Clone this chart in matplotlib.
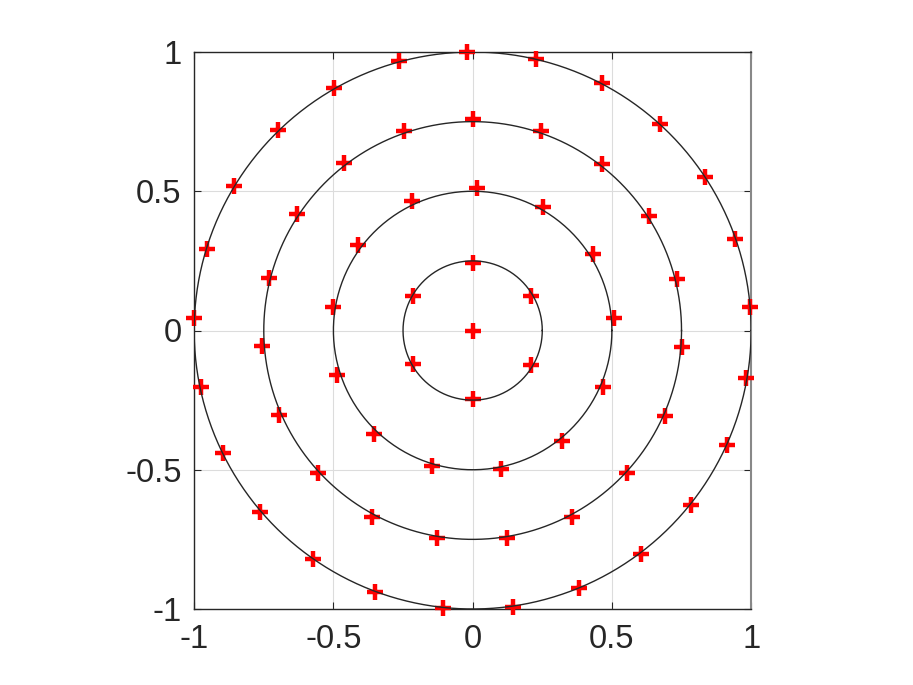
import numpy as np
import matplotlib
matplotlib.use("Agg")
import matplotlib.pyplot as plt

# Ring radii (drawn circles)
radii = [0.25, 0.5, 0.75, 1.0]

# Point coordinates
center_x = [0.0]
center_y = [0.0]

ring1_x = [0.000, 0.211, 0.211, 0.000, -0.213, -0.213]
ring1_y = [0.241, 0.124, -0.123, -0.246, -0.121, 0.124]

ring2_x = [0.016, 0.253, 0.432, 0.509, 0.468, 0.322, 0.101, -0.145, -0.353,
           -0.487, -0.503, -0.410, -0.218]
ring2_y = [0.512, 0.442, 0.274, 0.044, -0.202, -0.396, -0.498, -0.487, -0.372,
           -0.160, 0.083, 0.307, 0.465]

ring3_x = [0.000, 0.247, 0.465, 0.632, 0.734, 0.752, 0.689, 0.555, 0.358, 0.122,
           -0.127, -0.362, -0.557, -0.694, -0.755, -0.732, -0.630, -0.463, -0.246]
ring3_y = [0.758, 0.718, 0.597, 0.412, 0.184, -0.059, -0.307, -0.512, -0.669, -0.746,
           -0.746, -0.669, -0.513, -0.303, -0.057, 0.187, 0.417, 0.600, 0.717]

ring4_x = [-1.000, -0.955, -0.857, -0.698, -0.499, -0.266, -0.019, 0.229, 0.465,
           0.671, 0.835, 0.943, 0.996, 0.983, 0.913, 0.784, 0.603, 0.382, 0.145,
           -0.105, -0.352, -0.574, -0.762, -0.895, -0.976]
ring4_y = [0.046, 0.292, 0.520, 0.720, 0.870, 0.969, 1.001, 0.975, 0.890,
           0.741, 0.552, 0.327, 0.083, -0.169, -0.411, -0.627, -0.803, -0.926, -0.992,
           -0.997, -0.938, -0.822, -0.651, -0.441, -0.204]

ticks = [-1, -0.5, 0, 0.5, 1]
tick_labels = ["-1", "-0.5", "0", "0.5", "1"]

plt.rcParams['font.family'] = ['Liberation Sans', 'DejaVu Sans']

fig = plt.figure(figsize=(9.13, 6.85), dpi=100)
ax = fig.add_axes([193.3 / 913, 76 / 685, 558.7 / 913, 557 / 685])

xs = center_x + ring1_x + ring2_x + ring3_x + ring4_x
ys = center_y + ring1_y + ring2_y + ring3_y + ring4_y
ax.plot(xs, ys, linestyle='none', marker='+', color='#ff0000',
        markersize=12, markeredgewidth=3.2, zorder=3, clip_on=False)

t = np.linspace(0, 2 * np.pi, 400)
for r in radii:
    ax.plot(r * np.cos(t), r * np.sin(t), color='#262626', linewidth=1.0, zorder=4)

ax.set_xlim(-1, 1)
ax.set_ylim(-1, 1)
ax.set_aspect('equal', adjustable='box')
ax.set_xticks(ticks)
ax.set_yticks(ticks)
ax.set_xticklabels(tick_labels)
ax.set_yticklabels(tick_labels)
ax.grid(True, color='#dcdcdc', linewidth=0.8, zorder=0)
ax.set_axisbelow(True)
ax.tick_params(direction='in', length=5, width=0.8, colors='#262626',
               labelsize=23.5, top=True, right=True)
ax.tick_params(axis='x', pad=11)
ax.tick_params(axis='y', pad=9)
for s in ['left', 'bottom', 'top']:
    ax.spines[s].set_color('#262626')
    ax.spines[s].set_linewidth(1.0)
ax.spines['right'].set_color('#888888')
ax.spines['right'].set_linewidth(1.5)

fig.savefig('out.png', dpi=100)
